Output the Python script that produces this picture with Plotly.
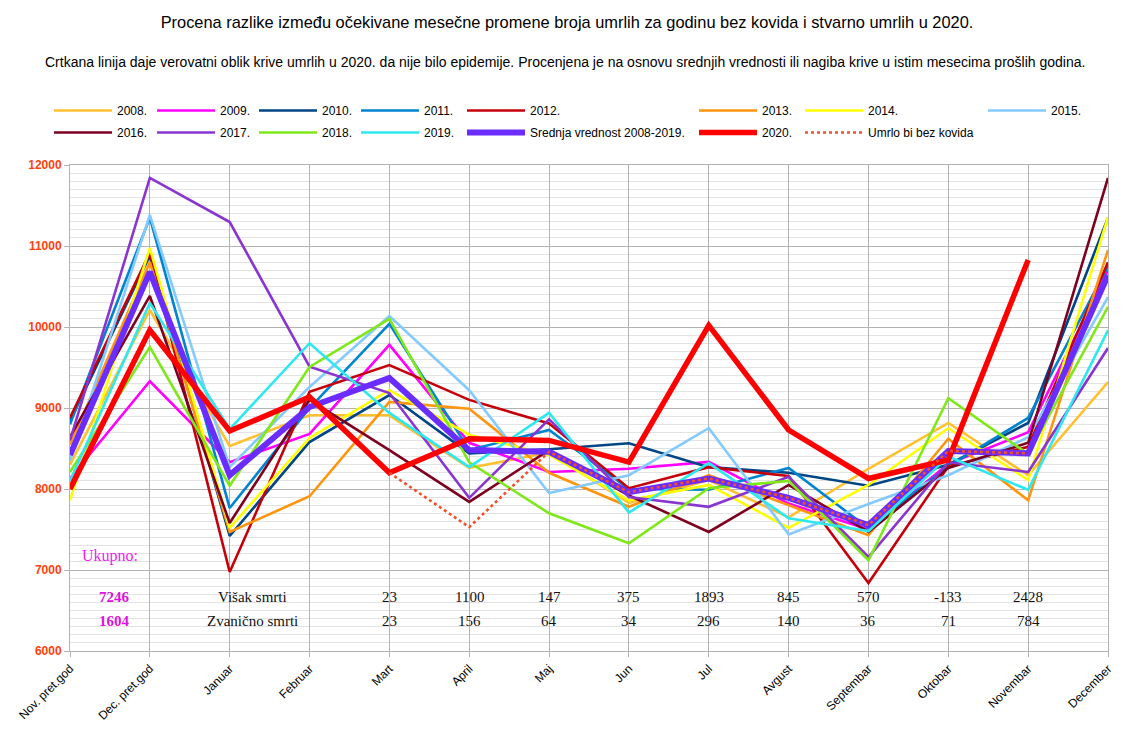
import plotly.graph_objects as go

categories = ["Nov. pret.god", "Dec. pret.god", "Januar", "Februar", "Mart", "April", "Maj",
              "Jun", "Jul", "Avgust", "Septembar", "Oktobar", "Novembar", "December"]

y2008 = [8300, 10210, 8530, 8910, 8910, 8260, 8450, 7830, 8110, 7650, 8250, 8815, 8170, 9320]
y2009 = [8130, 9330, 8330, 8680, 9780, 8570, 8210, 8250, 8335, 7820, 7500, 8310, 8700, 10700]
y2010 = [8840, 10880, 7420, 8580, 9160, 8440, 8490, 8565, 8270, 8200, 8040, 8300, 8815, 11350]
y2011 = [8800, 11350, 7765, 9000, 10040, 8480, 8730, 8000, 7990, 8260, 7515, 8280, 8877, 10750]
y2012 = [8880, 10914, 6975, 9200, 9530, 9100, 8810, 8010, 8270, 8160, 6840, 8280, 8520, 10800]
y2013 = [8550, 10800, 7470, 7910, 9075, 8990, 8200, 7780, 8170, 7800, 7430, 8620, 7860, 10950]
y2014 = [7860, 10975, 7520, 8630, 9220, 8670, 8420, 7860, 8050, 7520, 8050, 8750, 8110, 11360]
y2015 = [8350, 11383, 8270, 9260, 10135, 9220, 7950, 8170, 8750, 7440, 7815, 8170, 8640, 10370]
y2016 = [8640, 10383, 7580, 9100, 8480, 7840, 8480, 7920, 7470, 8050, 7470, 8260, 8570, 11840]
y2017 = [8600, 11840, 11296, 9510, 9185, 7890, 8860, 7900, 7780, 8150, 7160, 8330, 8210, 9740]
y2018 = [8210, 9753, 8040, 9506, 10100, 8330, 7700, 7330, 8010, 8100, 7120, 9120, 8430, 10250]
y2019 = [8100, 10296, 8740, 9800, 8940, 8270, 8940, 7710, 8320, 7640, 7480, 8400, 7990, 9960]
mean_2008_2019 = [8420, 10680, 8170, 9012, 9370, 8480, 8460, 7960, 8130, 7890, 7555, 8470, 8440, 10640]
y2020 = [8000, 9963, 8716, 9135, 8200, 8620, 8600, 8333, 10020, 8728, 8130, 8360, 10827, None]
no_covid = [None, None, None, None, 8200, 7530, 8460, 7960, 8130, 7890, 7555, 8470, 8440, None]

note_months = ["Mart", "April", "Maj", "Jun", "Jul", "Avgust", "Septembar", "Oktobar", "Novembar"]
excess_deaths = [23, 1100, 147, 375, 1893, 845, 570, -133, 2428]
official_deaths = [23, 156, 64, 34, 296, 140, 36, 71, 784]
total_excess = 7246
total_official = 1604

W, H = 1131, 731
OFF = 8  # page body margin
# plot area in page pixels: x 70..1108, y 165..651
ML, MT = 70 - OFF, 165 - OFF
MR = W - (1108 - OFF)
MB = H - (651 - OFF)
xs = list(range(len(categories)))


def paper_x(page_px):
    return (page_px - OFF - ML) / (W - ML - MR)


def paper_y(page_py):
    return (H - MB - (page_py - OFF)) / (H - MT - MB)


series = [
    ("2008.", y2008, "#ffc030", 2.6, "solid", "legend"),
    ("2009.", y2009, "#ff00ff", 2.6, "solid", "legend2"),
    ("2010.", y2010, "#004586", 2.6, "solid", "legend3"),
    ("2011.", y2011, "#0084d1", 2.6, "solid", "legend4"),
    ("2012.", y2012, "#c5000b", 2.6, "solid", "legend5"),
    ("2013.", y2013, "#ff950e", 2.6, "solid", "legend6"),
    ("2014.", y2014, "#ffff00", 2.6, "solid", "legend7"),
    ("2015.", y2015, "#83caff", 2.6, "solid", "legend8"),
    ("2016.", y2016, "#7e0021", 2.6, "solid", "legend"),
    ("2017.", y2017, "#8b35d0", 2.6, "solid", "legend2"),
    ("2018.", y2018, "#7fe81a", 2.6, "solid", "legend3"),
    ("2019.", y2019, "#2ee8f0", 2.6, "solid", "legend4"),
    ("Srednja vrednost 2008-2019.", mean_2008_2019, "#6a2cff", 6, "solid", "legend5"),
    ("2020.", y2020, "#ff0000", 5.5, "solid", "legend6"),
    ("Umrlo bi bez kovida", no_covid, "#f0502a", 2.6, "dot", "legend7"),
]

fig = go.Figure()
for i, (name, vals, color, width, dash, leg) in enumerate(series):
    fig.add_trace(go.Scatter(
        x=xs, y=vals, name=name, mode="lines",
        line=dict(color=color, width=width, dash=dash),
        legend=leg, legendgroup="g%d" % i,
    ))

# page x where each legend column's text starts
legend_text_page = [117, 220, 322, 424, 530, 762, 868, 1051]
ITEMW = 58
leg_names = ["legend"] + ["legend%d" % k for k in range(2, 9)]
layout_legends = {}
for name, tx in zip(leg_names, legend_text_page):
    layout_legends[name] = dict(
        x=paper_x(tx - ITEMW - 10), y=paper_y(96), xref="paper", yref="paper",
        xanchor="left", yanchor="top", orientation="v",
        bgcolor="rgba(0,0,0,0)", borderwidth=0, tracegroupgap=3,
        font=dict(family="Liberation Sans", size=12, color="#000"),
        itemwidth=ITEMW,
    )

annotations = []
for m, e, o in zip(note_months, excess_deaths, official_deaths):
    xi = categories.index(m)
    annotations.append(dict(x=xi, y=6667, xref="x", yref="y", text=str(e), showarrow=False,
                            font=dict(family="Liberation Serif", size=15, color="#111")))
    annotations.append(dict(x=xi, y=6370, xref="x", yref="y", text=str(o), showarrow=False,
                            font=dict(family="Liberation Serif", size=15, color="#111")))
annotations += [
    dict(x=0.5, y=7170, xref="x", yref="y", text="Ukupno:", showarrow=False,
         font=dict(family="Liberation Serif", size=16, color="#ee22ee")),
    dict(x=0.56, y=6667, xref="x", yref="y", text="<b>%d</b>" % total_excess, showarrow=False,
         font=dict(family="Liberation Serif", size=15, color="#dd11dd")),
    dict(x=0.56, y=6370, xref="x", yref="y", text="<b>%d</b>" % total_official, showarrow=False,
         font=dict(family="Liberation Serif", size=15, color="#dd11dd")),
    dict(x=2.29, y=6667, xref="x", yref="y", text="Višak smrti", showarrow=False,
         font=dict(family="Liberation Serif", size=15, color="#111")),
    dict(x=2.29, y=6370, xref="x", yref="y", text="Zvanično smrti", showarrow=False,
         font=dict(family="Liberation Serif", size=15, color="#111")),
    dict(x=paper_x(565), y=paper_y(62), xref="paper", yref="paper", showarrow=False,
         xanchor="center", yanchor="middle",
         text="Crtkana linija daje verovatni oblik krive umrlih u 2020. da nije bilo epidemije. "
              "Procenjena je na osnovu srednjih vrednosti ili nagiba krive u istim mesecima prošlih godina.",
         font=dict(family="Liberation Sans", size=14, color="#000")),
]

fig.update_layout(
    width=W, height=H,
    paper_bgcolor="white", plot_bgcolor="white",
    margin=dict(l=ML, r=MR, t=MT, b=MB, autoexpand=False),
    title=dict(text="Procena razlike između očekivane mesečne promene broja umrlih za godinu bez kovida i stvarno umrlih u 2020.",
               x=(567 - OFF) / W, xanchor="center", y=1 - (22 - OFF) / H, yanchor="middle",
               xref="container", yref="container",
               font=dict(family="Liberation Sans", size=16.4, color="#000")),
    showlegend=True,
    annotations=annotations,
    **layout_legends,
)
fig.update_xaxes(
    range=[0, 13], tickmode="array", tickvals=xs, ticktext=categories, tickangle=-45,
    showgrid=True, gridcolor="#b3b3b3", gridwidth=1, zeroline=False,
    ticks="outside", ticklen=5, tickcolor="#b3b3b3",
    showline=True, linecolor="#b3b3b3", mirror=True,
    tickfont=dict(family="Liberation Sans", size=12, color="#000"),
)
fig.update_yaxes(
    range=[6000, 12000], dtick=1000, tick0=6000, tickformat="d",
    showgrid=True, gridcolor="#b3b3b3", gridwidth=1, zeroline=False,
    ticks="outside", ticklen=5, tickcolor="#b3b3b3",
    showline=True, linecolor="#b3b3b3", mirror=True,
    tickfont=dict(family="Liberation Sans", size=12, color="#ff420e", weight="bold"),
    minor=dict(dtick=100, showgrid=True, gridcolor="#e3e3e3", gridwidth=1),
)

fig.write_html("out.html")
